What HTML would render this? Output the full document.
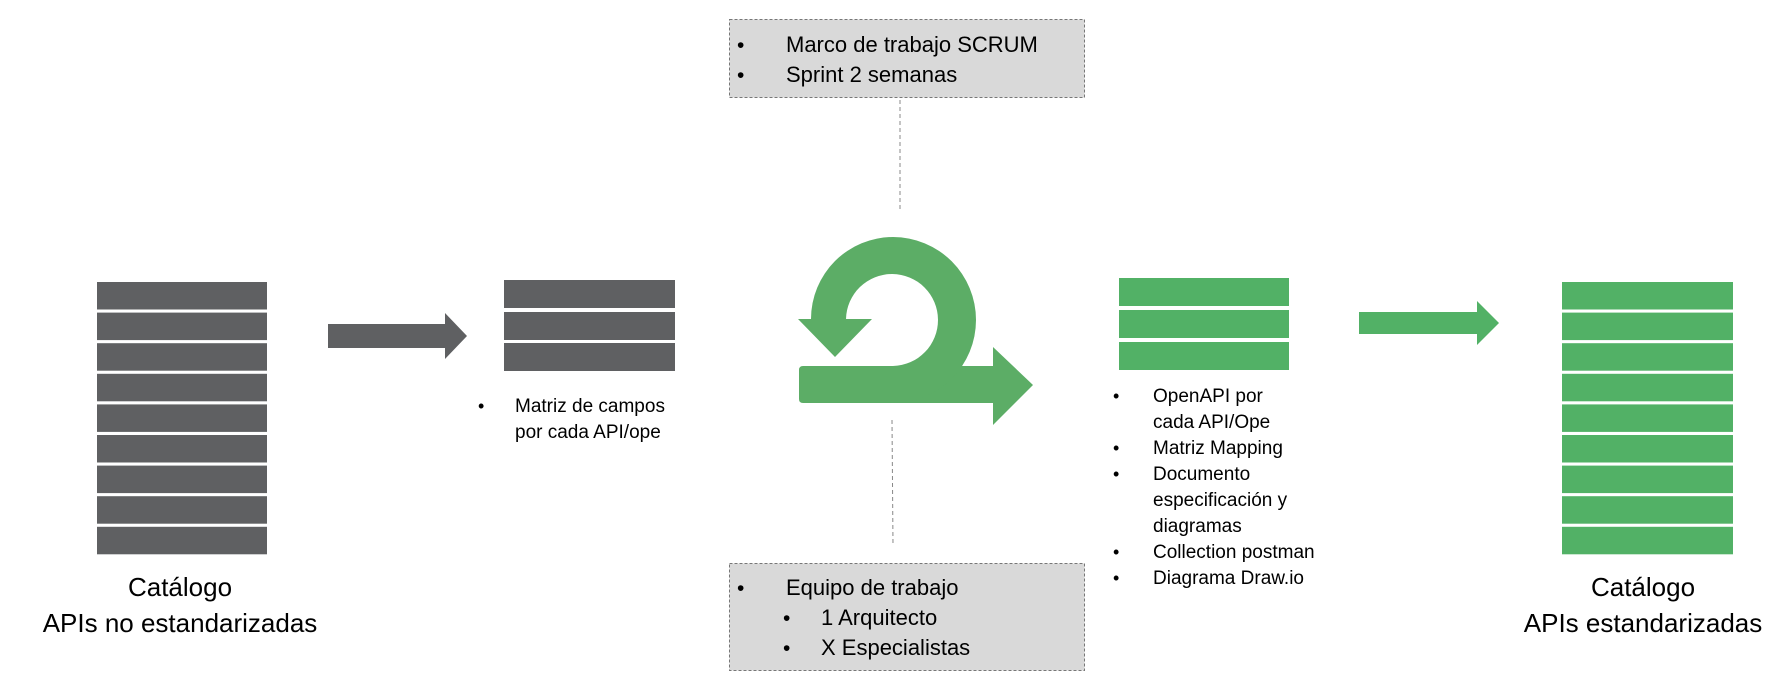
<!DOCTYPE html>
<html><head><meta charset="utf-8"><style>
html,body{margin:0;padding:0;background:#fff;}
svg{display:block;}
text{font-family:"Liberation Sans",sans-serif;fill:#000;}
</style></head><body>
<svg width="1788" height="694" viewBox="0 0 1788 694" xmlns="http://www.w3.org/2000/svg">
<!-- left stack -->
<g fill="#5f6062">
<rect x="97" y="282" width="170" height="27.5"/>
<rect x="97" y="312.6" width="170" height="27.5"/>
<rect x="97" y="343.2" width="170" height="27.5"/>
<rect x="97" y="373.8" width="170" height="27.5"/>
<rect x="97" y="404.4" width="170" height="27.5"/>
<rect x="97" y="435" width="170" height="27.5"/>
<rect x="97" y="465.6" width="170" height="27.5"/>
<rect x="97" y="496.2" width="170" height="27.5"/>
<rect x="97" y="526.8" width="170" height="27.5"/>
<!-- arrow1 -->
<polygon points="328,324 445,324 445,313 467,336 445,359 445,348 328,348"/>
<!-- stack2 -->
<rect x="504" y="280" width="171" height="28"/>
<rect x="504" y="312" width="171" height="28"/>
<rect x="504" y="343" width="171" height="28"/>
</g>
<text x="180" y="596" font-size="26" text-anchor="middle">Catálogo</text>
<text x="180" y="632" font-size="26" text-anchor="middle">APIs no estandarizadas</text>
<text x="478" y="412" font-size="18">•</text>
<text x="515" y="412" font-size="19">Matriz de campos</text>
<text x="515" y="438" font-size="19">por cada API/ope</text>

<!-- top box -->
<rect x="729.5" y="19.5" width="355" height="78" fill="#d9d9d9" stroke="#777" stroke-dasharray="3,2"/>
<text x="737" y="52" font-size="21">•</text>
<text x="786" y="52" font-size="22">Marco de trabajo SCRUM</text>
<text x="737" y="82" font-size="21">•</text>
<text x="786" y="82" font-size="22">Sprint 2 semanas</text>
<line x1="900" y1="100" x2="900" y2="212" stroke="#888" stroke-dasharray="4,3"/>

<!-- bottom box -->
<rect x="729.5" y="563.5" width="355" height="107" fill="#d9d9d9" stroke="#777" stroke-dasharray="3,2"/>
<text x="737" y="595" font-size="21">•</text>
<text x="786" y="595" font-size="22">Equipo de trabajo</text>
<text x="783" y="625" font-size="21">•</text>
<text x="821" y="625" font-size="22">1 Arquitecto</text>
<text x="783" y="655" font-size="21">•</text>
<text x="821" y="655" font-size="22">X Especialistas</text>
<line x1="892" y1="420" x2="893" y2="546" stroke="#888" stroke-dasharray="4,3"/>

<!-- scrum icon -->
<g fill="#5cad66">
<polygon points="880,366 993,366 993,347 1033,385 993,425 993,403 880,403"/>
<path d="M893,237 A83,83 0 1 1 893,403 L803,403 Q799,403 799,399 L799,370 Q799,366 803,366 L893,366 A46,46 0 1 0 846,319 L811,319 A82,82 0 0 1 893,237 Z"/>
<polygon points="798,319 872,319 835,357"/>
</g>

<!-- green stack -->
<g fill="#52b166">
<rect x="1119" y="278" width="170" height="28"/>
<rect x="1119" y="310" width="170" height="28"/>
<rect x="1119" y="342" width="170" height="28"/>
<polygon points="1359,312 1477,312 1477,301 1499,323 1477,345 1477,334 1359,334"/>
<rect x="1562" y="282" width="171" height="27.5"/>
<rect x="1562" y="312.6" width="171" height="27.5"/>
<rect x="1562" y="343.2" width="171" height="27.5"/>
<rect x="1562" y="373.8" width="171" height="27.5"/>
<rect x="1562" y="404.4" width="171" height="27.5"/>
<rect x="1562" y="435" width="171" height="27.5"/>
<rect x="1562" y="465.6" width="171" height="27.5"/>
<rect x="1562" y="496.2" width="171" height="27.5"/>
<rect x="1562" y="526.8" width="171" height="27.5"/>
</g>
<g font-size="18">
<text x="1113" y="402">•</text><text x="1153" y="402" font-size="19">OpenAPI por</text>
<text x="1153" y="428" font-size="19">cada API/Ope</text>
<text x="1113" y="454">•</text><text x="1153" y="454" font-size="19">Matriz Mapping</text>
<text x="1113" y="480">•</text><text x="1153" y="480" font-size="19">Documento</text>
<text x="1153" y="506" font-size="19">especificación y</text>
<text x="1153" y="532" font-size="19">diagramas</text>
<text x="1113" y="558">•</text><text x="1153" y="558" font-size="19">Collection postman</text>
<text x="1113" y="584">•</text><text x="1153" y="584" font-size="19">Diagrama Draw.io</text>
</g>
<text x="1643" y="596" font-size="26" text-anchor="middle">Catálogo</text>
<text x="1643" y="632" font-size="26" text-anchor="middle">APIs estandarizadas</text>
</svg>
</body></html>
